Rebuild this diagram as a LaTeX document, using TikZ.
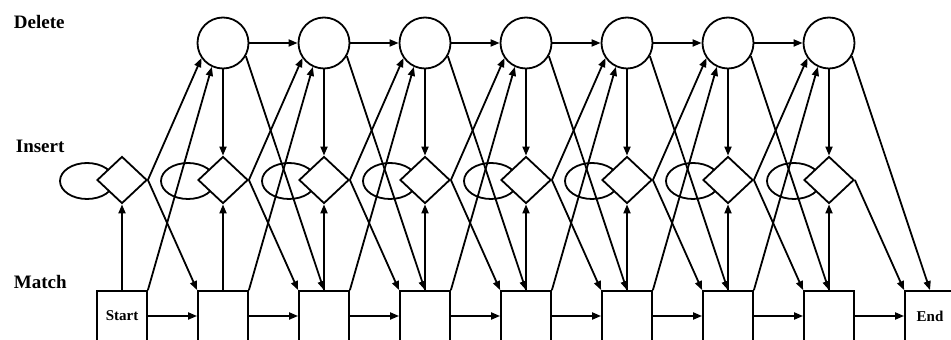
\documentclass[tikz,border=0pt]{standalone}
\usepackage{fontspec}
\setmainfont{Liberation Serif}
\usetikzlibrary{shapes.geometric,arrows.meta}
\tikzset{
    matchbox/.style={draw, minimum size=50pt, inner sep=0pt, font=\bfseries\fontsize{15}{15}\selectfont},
    insertnode/.style={draw, diamond, fill=white, minimum width=50pt, minimum height=47pt, inner sep=0pt},
    deletenode/.style={draw, circle, minimum size=51pt, inner sep=0pt},
    rowlabel/.style={anchor=base west, inner sep=0pt, font=\bfseries\fontsize{19}{19}\selectfont},
}
\begin{document}
\begin{tikzpicture}[x=1pt, y=1pt, line width=1.8pt, >={Triangle[length=9pt,width=7pt]}]
    \useasboundingbox (0,0) rectangle (951,340);

    % row labels
    \node[rowlabel] (dlabel) at (13,311) {Delete};
    \node[rowlabel] (ilabel) at (15,187) {Insert};
    \node[rowlabel] (mlabel) at (13,51) {Match};

    % self loops of the insert states
    \foreach \i in {0,...,7}
        \draw (122+101*\i-35,159) ellipse (27pt and 18pt);

    % states
    \node[matchbox] (m0) at (122,24) {Start};
    \foreach \i in {1,...,7}
        \node[matchbox] (m\i) at (122+101*\i,24) {};
    \node[matchbox] (m8) at (930,24) {End};
    \foreach \i in {0,...,7}
        \node[insertnode] (i\i) at (122+101*\i,160) {};
    \foreach \i in {1,...,7}
        \node[deletenode] (d\i) at (122+101*\i,297) {};

    % transitions out of match and insert states
    \foreach \i in {0,...,7} {
        \pgfmathtruncatemacro\j{\i+1}
        \draw[->] (m\i.east) -- (m\j.west);
        \draw[->] (m\i.north) -- (i\i.south);
        \draw[->] (i\i.east) -- (m\j.north west);
    }
    \foreach \i in {0,...,6} {
        \pgfmathtruncatemacro\j{\i+1}
        \draw[->] (m\i.north east) -- (d\j.245);
        \draw[->] (i\i.east) -- (d\j.215);
    }

    % transitions out of delete states
    \foreach \i in {1,...,7} {
        \pgfmathtruncatemacro\j{\i+1}
        \draw[->] (d\i.south) -- (i\i.north);
        \draw[->] (d\i.-30) -- (m\j.north);
    }
    \foreach \i in {1,...,6} {
        \pgfmathtruncatemacro\j{\i+1}
        \draw[->] (d\i.east) -- (d\j.west);
    }
\end{tikzpicture}
\end{document}
